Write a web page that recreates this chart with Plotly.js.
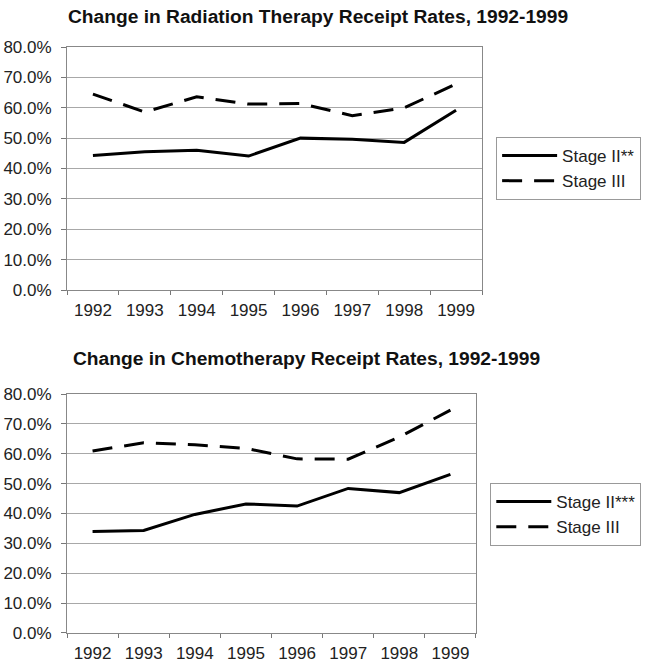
<!DOCTYPE html>
<html>
<head>
<meta charset="utf-8">
<script src="https://cdn.plot.ly/plotly-3.0.1.min.js"></script>
<style>html,body{margin:0;padding:0;background:#fff;}#chart{width:645px;height:666px;}</style>
</head>
<body>
<div id="chart"></div>
<script>
const years = ['1992','1993','1994','1995','1996','1997','1998','1999'];
const radiationStageII = [44.3, 45.5, 46.0, 44.1, 50.0, 49.6, 48.6, 59.2];
const radiationStageIII = [64.5, 58.6, 63.6, 61.2, 61.4, 57.4, 60.0, 67.8];
const chemoStageII = [34.0, 34.3, 39.7, 43.2, 42.5, 48.4, 47.0, 53.1];
const chemoStageIII = [60.9, 63.7, 63.0, 61.8, 58.3, 58.2, 65.6, 74.6];
const titleTop = 'Change in Radiation Therapy Receipt Rates, 1992-1999';
const titleBottom = 'Change in Chemotherapy Receipt Rates, 1992-1999';
const yTicks = [0,10,20,30,40,50,60,70,80];

const FONT = 'Liberation Sans, Arial, sans-serif';
const solid = {color:'#000', width:3, dash:'solid'};
const dashed = {color:'#000', width:3, dash:'20px,12px'};

const traces = [
  {x: years, y: radiationStageII, type:'scatter', mode:'lines', name:'Stage II**', line: solid, xaxis:'x', yaxis:'y', legend:'legend'},
  {x: years, y: radiationStageIII, type:'scatter', mode:'lines', name:'Stage III', line: dashed, xaxis:'x', yaxis:'y', legend:'legend'},
  {x: years, y: chemoStageII, type:'scatter', mode:'lines', name:'Stage II***', line: solid, xaxis:'x2', yaxis:'y2', legend:'legend2'},
  {x: years, y: chemoStageIII, type:'scatter', mode:'lines', name:'Stage III', line: dashed, xaxis:'x2', yaxis:'y2', legend:'legend2'}
];

function xax(domain, anchor){
  return {domain: domain, anchor: anchor, type:'category', range:[-0.5, 7.5], tickson:'boundaries', ticks:'outside', ticklen:4,
    tickcolor:'#777', showline:true, linecolor:'#888', linewidth:1, mirror:true, showgrid:false, ticklabelstandoff:5,
    tickfont:{family:FONT, size:17, color:'#222'}, fixedrange:true, automargin:false};
}
function yax(domain, anchor){
  return {domain: domain, anchor: anchor, range:[0,80], tickvals: yTicks,
    ticktext: yTicks.map(v => v.toFixed(1) + '%'), ticks:'outside', ticklen:5, tickcolor:'#777', ticklabelstandoff:6,
    showline:true, linecolor:'#888', linewidth:1, mirror:true, showgrid:true, gridcolor:'#a8a8a8', gridwidth:1,
    zeroline:false, tickfont:{family:FONT, size:17, color:'#222'}, fixedrange:true, automargin:false};
}
function leg(x, y){
  return {x:x, y:y, xanchor:'left', yanchor:'top', bordercolor:'#999', borderwidth:1, bgcolor:'#fff',
    font:{family:FONT, size:17, color:'#222'}, itemwidth:55, tracegroupgap:0};
}

const layout = {
  width:645, height:666,
  margin:{l:67, r:163, t:47, b:33, autoexpand:false},
  paper_bgcolor:'#fff', plot_bgcolor:'#fff',
  showlegend:true,
  xaxis: xax([0,1], 'y'),
  yaxis: yax([0.5853,1], 'x'),
  xaxis2: xax([0,0.9855], 'y2'),
  yaxis2: yax([0,0.4078], 'x2'),
  legend: leg(1.034, 0.8464),
  legend2: leg(1.020, 0.256),
  annotations: [
    {text:'<b>'+titleTop+'</b>', xref:'paper', yref:'paper', x:-0.002, y:1.0512, xanchor:'left', yanchor:'middle', showarrow:false, font:{family:FONT, size:19.2, color:'#111'}},
    {text:'<b>'+titleBottom+'</b>', xref:'paper', yref:'paper', x:0.009, y:0.4676, xanchor:'left', yanchor:'middle', showarrow:false, font:{family:FONT, size:19.2, color:'#111'}}
  ]
};

Plotly.newPlot('chart', traces, layout, {displayModeBar:false, staticPlot:true});
</script>
</body>
</html>
